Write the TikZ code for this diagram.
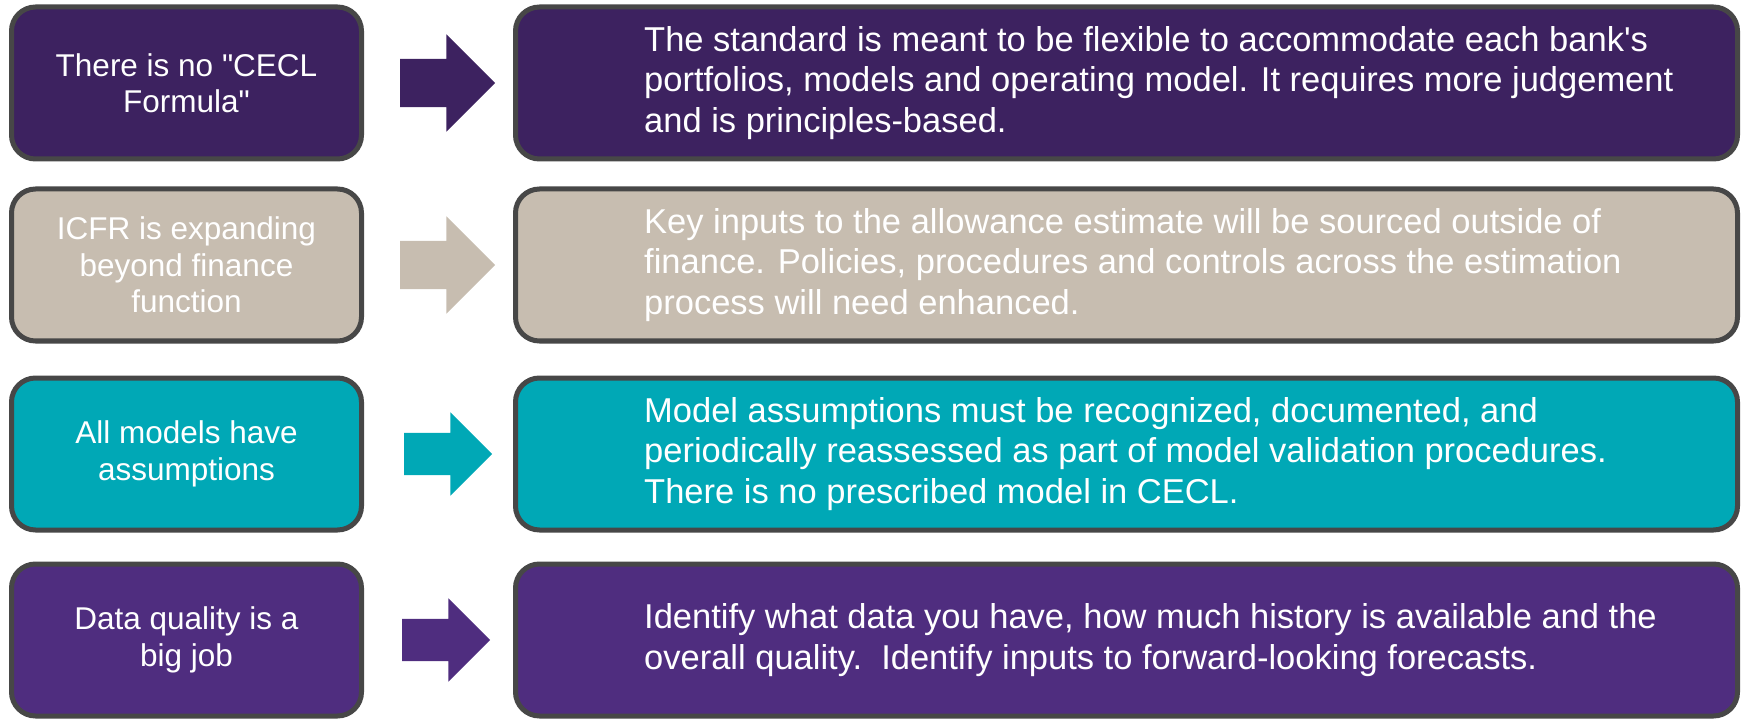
\documentclass[tikz,border=0pt]{standalone}
\usepackage{fontspec}
\usepackage{tikz}
\usetikzlibrary{shapes.arrows}

\newfontfamily\boxfont{Liberation Sans}

\definecolor{cecl}{HTML}{3D2260}
\definecolor{icfr}{HTML}{C7BDB0}
\definecolor{models}{HTML}{00A8B6}
\definecolor{dataq}{HTML}{4F2D7F}
\definecolor{rim}{HTML}{474747}

\begin{document}
\begin{tikzpicture}
 [left box/.style={rectangle, rounded corners=24pt, draw=rim, line width=5pt, minimum width=350pt, minimum height=152pt, align=center, text=white, font=\boxfont\fontsize{31.5}{36.5}\selectfont},
  right box/.style={rectangle, rounded corners=24pt, draw=rim, line width=5pt, minimum width=1222pt, minimum height=152pt},
  box text/.style={anchor=west, inner sep=0pt, align=left, text=white, font=\boxfont\fontsize{34.5}{40.5}\selectfont},
  big arrow/.style={single arrow, draw=none, inner xsep=0pt, inner ysep=24pt, minimum height=95pt, single arrow head extend=24.5pt},
  small arrow/.style={single arrow, draw=none, inner xsep=0pt, inner ysep=21pt, minimum height=88pt, single arrow head extend=20.5pt}]

\useasboundingbox (0,0) rectangle (1743pt,-719pt);

% the four topics on the left
\node[left box, fill=cecl] (l1) at (186.5pt,-83pt) {There is no "CECL\\Formula"};
\node[left box, fill=icfr] (l2) [node distance=182pt, below of=l1] {ICFR is expanding\\beyond finance\\function};
\node[left box, fill=models] (l3) [node distance=189pt, below of=l2] {All models have\\assumptions};
\node[left box, fill=dataq] (l4) [node distance=186pt, below of=l3] {Data quality is a\\big job};

% block arrows
\node[big arrow, fill=cecl] (a1) [node distance=249pt, right of=l1] {};
\node[big arrow, fill=icfr] (a2) [node distance=249pt, right of=l2] {};
\node[small arrow, fill=models] (a3) [node distance=251pt, right of=l3] {};
\node[small arrow, fill=dataq] (a4) [node distance=249pt, right of=l4] {};

% explanations on the right
\node[right box, fill=cecl] (r1) [node distance=940pt, right of=l1] {};
\node[right box, fill=icfr] (r2) [node distance=940pt, right of=l2] {};
\node[right box, fill=models] (r3) [node distance=940pt, right of=l3] {};
\node[right box, fill=dataq] (r4) [node distance=940pt, right of=l4] {};

\node[box text] (t1) at ([xshift=131pt]r1.west) {The standard is meant to be flexible to accommodate each bank's\\portfolios, models and operating model. It requires more judgement\\and is principles-based.};
\node[box text] (t2) at ([xshift=131pt]r2.west) {Key inputs to the allowance estimate will be sourced outside of\\finance. Policies, procedures and controls across the estimation\\process will need enhanced.};
\node[box text] (t3) at ([xshift=131pt]r3.west) {Model assumptions must be recognized, documented, and\\periodically reassessed as part of model validation procedures.\\There is no prescribed model in CECL.};
\node[box text] (t4) at ([xshift=131pt]r4.west) {Identify what data you have, how much history is available and the\\overall quality.\ \ Identify inputs to forward-looking forecasts.};

\end{tikzpicture}
\end{document}
